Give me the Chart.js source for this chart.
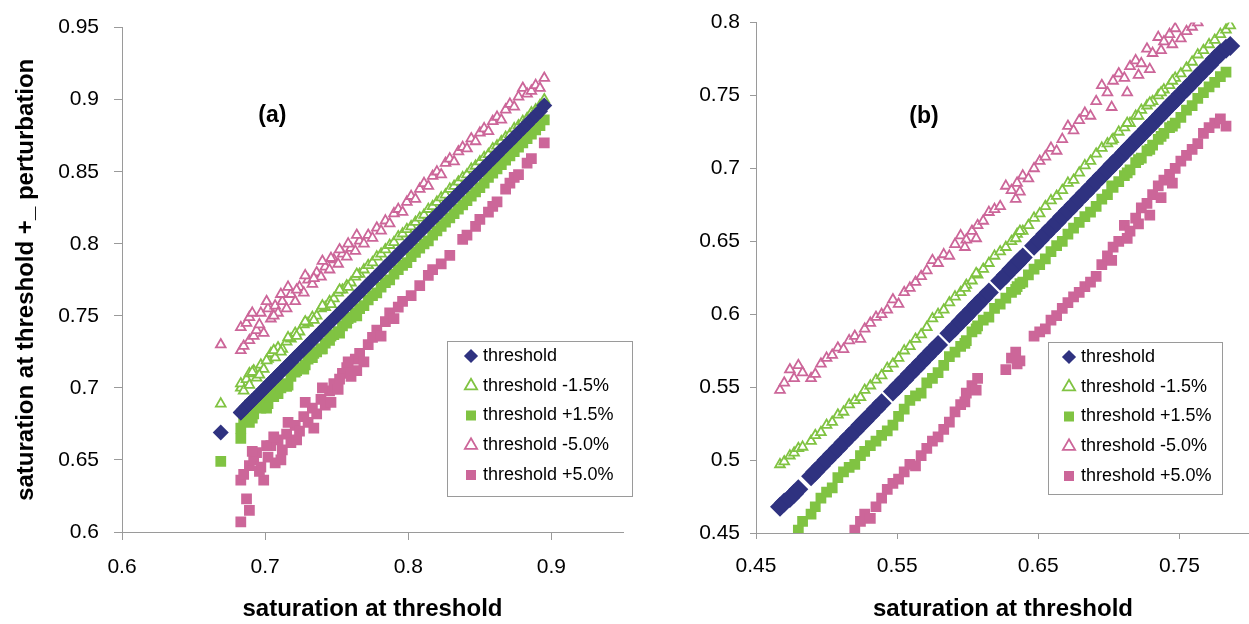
<!DOCTYPE html>
<html>
<head>
<meta charset="utf-8">
<script src="https://cdn.jsdelivr.net/npm/chart.js@4.4.1/dist/chart.umd.min.js"></script>
<style>
  html, body { margin: 0; padding: 0; background: #fff; overflow: hidden; }
  .panel { position: absolute; top: 0; height: 624px; }
</style>
</head>
<body>
<div class="panel" style="left:0;width:640px"><canvas id="chartA" width="640" height="624"></canvas></div>
<div class="panel" style="left:640px;width:620px"><canvas id="chartB" width="620" height="624"></canvas></div>
<script>
const seriesNames = ['threshold', 'threshold -1.5%', 'threshold +1.5%', 'threshold -5.0%', 'threshold +5.0%']

// panel (a)
const satA = [0.669, 0.683, 0.683, 0.685, 0.687, 0.689, 0.689, 0.692, 0.694, 0.697, 0.699, 0.702, 0.704, 0.707, 0.709, 0.712,
  0.715, 0.718, 0.721, 0.724, 0.727, 0.730, 0.733, 0.736, 0.739, 0.742, 0.745, 0.748, 0.751, 0.754, 0.757, 0.760, 0.763, 0.766, 0.769, 0.772,
  0.775, 0.778, 0.781, 0.784, 0.787, 0.790, 0.793, 0.796, 0.799, 0.802, 0.805, 0.808, 0.811, 0.814, 0.817, 0.820, 0.823, 0.826, 0.829, 0.832,
  0.835, 0.838, 0.841, 0.844, 0.847, 0.850, 0.853, 0.856, 0.859, 0.862, 0.865, 0.868, 0.871, 0.874, 0.877, 0.880, 0.883, 0.886, 0.889, 0.892, 0.895,
  0.691, 0.696, 0.701, 0.706, 0.711, 0.716, 0.722, 0.728, 0.734, 0.740, 0.746, 0.752, 0.758, 0.764]
const thresholdA = [0.669, 0.683, 0.683, 0.685, 0.687, 0.689, 0.689, 0.692, 0.694, 0.697, 0.699, 0.702, 0.704, 0.707, 0.709, 0.712,
  0.715, 0.718, 0.721, 0.724, 0.727, 0.730, 0.733, 0.736, 0.739, 0.742, 0.745, 0.748, 0.751, 0.754, 0.757, 0.760, 0.763, 0.766, 0.769, 0.772,
  0.775, 0.778, 0.781, 0.784, 0.787, 0.790, 0.793, 0.796, 0.799, 0.802, 0.805, 0.808, 0.811, 0.814, 0.817, 0.820, 0.823, 0.826, 0.829, 0.832,
  0.835, 0.838, 0.841, 0.844, 0.847, 0.850, 0.853, 0.856, 0.859, 0.862, 0.865, 0.868, 0.871, 0.874, 0.877, 0.880, 0.883, 0.886, 0.889, 0.892, 0.896,
  0.691, 0.696, 0.701, 0.706, 0.711, 0.716, 0.722, 0.728, 0.734, 0.740, 0.746, 0.752, 0.758, 0.764]
const minus15A = [0.689, 0.700, 0.703, 0.698, 0.706, 0.710, 0.702, 0.712, 0.707, 0.716, 0.713, 0.720, 0.724, 0.721, 0.728, 0.727,
  0.732, 0.734, 0.738, 0.739, 0.744, 0.745, 0.749, 0.750, 0.755, 0.756, 0.760, 0.762, 0.766, 0.768, 0.771, 0.773, 0.777, 0.779, 0.782, 0.785,
  0.787, 0.791, 0.793, 0.796, 0.799, 0.801, 0.805, 0.807, 0.810, 0.812, 0.815, 0.818, 0.820, 0.824, 0.826, 0.829, 0.832, 0.834, 0.838, 0.840,
  0.843, 0.846, 0.848, 0.852, 0.854, 0.857, 0.860, 0.862, 0.866, 0.868, 0.871, 0.874, 0.876, 0.880, 0.882, 0.885, 0.887, 0.891, 0.893, 0.896, 0.900,
  0.711, 0.709, 0.719, 0.726, 0.725, 0.735, 0.736, 0.746, 0.747, 0.757, 0.758, 0.768, 0.770, 0.779]
const plus15A = [0.649, 0.665, 0.672, 0.678, 0.684, 0.676, 0.688, 0.682, 0.690, 0.686, 0.692, 0.689, 0.695, 0.699, 0.696, 0.703,
  0.701, 0.708, 0.711, 0.714, 0.713, 0.720, 0.721, 0.725, 0.727, 0.731, 0.733, 0.737, 0.739, 0.743, 0.745, 0.749, 0.752, 0.755, 0.757, 0.761,
  0.764, 0.766, 0.770, 0.773, 0.775, 0.779, 0.782, 0.785, 0.787, 0.791, 0.794, 0.797, 0.800, 0.802, 0.806, 0.809, 0.812, 0.815, 0.818, 0.821,
  0.824, 0.827, 0.830, 0.833, 0.836, 0.839, 0.842, 0.846, 0.849, 0.852, 0.855, 0.858, 0.861, 0.864, 0.867, 0.870, 0.873, 0.876, 0.879, 0.882, 0.886,
  0.679, 0.688, 0.686, 0.694, 0.700, 0.702, 0.712, 0.716, 0.724, 0.727, 0.736, 0.738, 0.748, 0.750]
const minus50A = [0.730, 0.742, 0.726, 0.729, 0.745, 0.733, 0.749, 0.736, 0.740, 0.752, 0.738, 0.755, 0.748, 0.757, 0.752, 0.760,
  0.755, 0.765, 0.760, 0.770, 0.766, 0.775, 0.772, 0.780, 0.777, 0.784, 0.782, 0.789, 0.786, 0.793, 0.791, 0.797, 0.795, 0.802, 0.800, 0.806,
  0.804, 0.811, 0.809, 0.816, 0.814, 0.821, 0.824, 0.822, 0.829, 0.833, 0.831, 0.838, 0.842, 0.840, 0.847, 0.850, 0.848, 0.856, 0.859, 0.857,
  0.864, 0.867, 0.866, 0.873, 0.871, 0.877, 0.880, 0.878, 0.885, 0.888, 0.886, 0.893, 0.897, 0.895, 0.902, 0.908, 0.904, 0.906, 0.910, 0.908, 0.915,
  0.752, 0.744, 0.760, 0.750, 0.765, 0.770, 0.768, 0.778, 0.776, 0.788, 0.790, 0.796, 0.800, 0.806]
const plus50A = [null, 0.607, 0.636, 0.640, 0.623, 0.615, 0.646, 0.650, 0.655, 0.645, 0.636, 0.652, 0.660, 0.648, 0.664, 0.657,
  0.668, 0.662, 0.674, 0.670, 0.680, 0.676, 0.686, 0.682, 0.692, 0.688, 0.698, 0.703, 0.699, 0.710, 0.714, 0.708, 0.720, 0.724, 0.718, 0.730,
  0.735, 0.740, 0.736, 0.746, 0.752, 0.748, 0.756, 0.760, null, 0.764, null, 0.771, null, 0.778, 0.782, null, 0.786, null, 0.792, null,
  null, 0.803, 0.806, null, 0.812, 0.817, null, 0.822, 0.826, 0.829, null, 0.838, 0.842, 0.846, 0.848, null, 0.856, 0.859, null, null, 0.870,
  0.656, 0.642, 0.660, 0.666, 0.650, 0.676, 0.664, 0.690, 0.672, 0.700, 0.690, 0.706, 0.718, 0.712]
const xTicksA = [0.6, 0.7, 0.8, 0.9]
const yTicksA = [0.6, 0.65, 0.7, 0.75, 0.8, 0.85, 0.9, 0.95]

// panel (b)
const satB = [0.467, 0.470, 0.474, 0.477, 0.480, 0.483, 0.489, 0.492, 0.496, 0.500, 0.504, 0.508, 0.512, 0.516, 0.520, 0.524, 0.527,
  0.531, 0.535, 0.539, 0.543, 0.547, 0.551, 0.555, 0.559, 0.563, 0.567, 0.571, 0.575, 0.579, 0.583, 0.587, 0.591, 0.595, 0.599, 0.603, 0.607,
  0.611, 0.615, 0.619, 0.623, 0.627, 0.631, 0.635, 0.639, 0.643, 0.647, 0.651, 0.655, 0.659, 0.663, 0.667, 0.671, 0.675, 0.679, 0.683, 0.687,
  0.691, 0.695, 0.699, 0.703, 0.707, 0.711, 0.715, 0.719, 0.723, 0.727, 0.731, 0.735, 0.739, 0.743, 0.747, 0.751, 0.755, 0.759, 0.763, 0.767,
  0.771, 0.775, 0.779, 0.783, 0.786,
  0.702, 0.713, 0.721, 0.729, 0.737, 0.745, 0.634, 0.637, 0.598, 0.606]
const thresholdB = [0.468, 0.471, 0.474, 0.477, 0.480, null, 0.489, 0.492, 0.496, 0.500, 0.504, 0.508, 0.512, 0.516, 0.520, 0.524, 0.527,
  0.531, 0.535, 0.539, null, 0.547, 0.551, 0.555, 0.559, 0.563, 0.567, 0.571, 0.575, 0.579, null, 0.587, 0.591, 0.595, 0.599, 0.603, 0.607,
  0.611, 0.615, null, 0.623, 0.627, 0.631, 0.635, 0.639, null, 0.647, 0.651, 0.655, 0.659, 0.663, 0.667, 0.671, 0.675, 0.679, 0.683, 0.687,
  0.691, 0.695, 0.699, 0.703, 0.707, 0.711, 0.715, 0.719, 0.723, 0.727, 0.731, 0.735, 0.739, 0.743, 0.747, 0.751, 0.755, 0.759, 0.763, 0.767,
  0.771, 0.775, 0.779, 0.782, 0.784,
  0.702, 0.713, 0.721, 0.729, 0.737, 0.745, 0.634, 0.637, 0.598, 0.606]
const minus15B = [0.497, 0.499, 0.503, 0.505, 0.508, 0.509, 0.513, 0.517, 0.519, 0.524, 0.526, 0.531, 0.533, 0.538, 0.541, 0.543, 0.548,
  0.551, 0.555, 0.558, 0.563, 0.566, 0.570, 0.575, 0.578, 0.583, 0.586, 0.591, 0.597, 0.600, 0.603, 0.608, 0.612, 0.615, 0.620, 0.623, 0.627,
  0.631, 0.635, 0.640, 0.643, 0.646, 0.650, 0.655, 0.657, 0.661, 0.666, 0.669, 0.674, 0.678, 0.681, 0.685, 0.690, 0.692, 0.697, 0.702, 0.705,
  0.710, 0.714, 0.717, 0.720, 0.725, 0.728, 0.731, 0.736, 0.740, 0.743, 0.746, 0.750, 0.754, 0.757, 0.762, 0.765, 0.769, 0.773, 0.778, 0.781,
  0.785, 0.788, 0.792, 0.795, 0.798,
  0.719, 0.731, 0.736, 0.745, 0.752, 0.760, 0.652, 0.657, 0.618, 0.628]
const plus15B = [null, null, null, null, 0.452, 0.458, 0.463, 0.468, 0.474, 0.478, 0.481, 0.488, 0.492, 0.495, 0.497, 0.503, 0.506,
  0.510, 0.513, 0.517, 0.520, 0.524, 0.530, 0.535, 0.541, 0.544, 0.546, 0.553, 0.556, 0.560, 0.565, 0.571, 0.574, 0.578, 0.582, 0.588, 0.592,
  0.596, 0.598, 0.604, 0.607, 0.611, 0.615, 0.619, 0.622, 0.627, 0.631, 0.634, 0.638, 0.643, 0.647, 0.650, 0.655, 0.659, 0.663, 0.667, 0.670,
  0.674, 0.679, 0.682, 0.687, 0.691, 0.695, 0.699, 0.704, 0.707, 0.712, 0.716, 0.720, 0.724, 0.728, 0.731, 0.735, 0.740, 0.743, 0.748, 0.752,
  0.756, 0.759, 0.763, 0.766, null,
  0.688, 0.697, 0.706, 0.713, 0.722, 0.729, 0.617, 0.621, 0.580, 0.590]
const minus50B = [0.548, 0.553, 0.562, 0.556, 0.565, 0.560, 0.556, 0.559, 0.566, 0.570, 0.572, 0.577, 0.576, 0.582, 0.585, 0.583, 0.590,
  0.594, 0.598, 0.600, 0.603, 0.610, 0.607, 0.615, 0.618, 0.622, 0.626, 0.630, 0.637, 0.635, 0.641, 0.640, 0.648, 0.654, 0.651, 0.657, 0.661,
  0.664, 0.670, 0.672, 0.674, 0.688, 0.685, 0.690, 0.695, 0.693, 0.700, 0.705, 0.708, 0.714, 0.712, 0.720, 0.729, 0.726, 0.733, 0.738, 0.736,
  0.746, 0.757, 0.752, 0.760, 0.765, 0.762, 0.770, 0.774, 0.772, 0.782, 0.779, 0.790, 0.787, 0.792, 0.796, 0.789, 0.794, 0.797, 0.800, null,
  null, null, null, null, null,
  0.742, 0.752, 0.764, 0.768, 0.781, 0.785, 0.679, 0.684, 0.646, 0.652]
const plus50B = [null, null, null, null, null, null, null, null, null, null, null, null, null, null, 0.452, 0.458, 0.463,
  0.460, 0.468, 0.474, 0.480, 0.484, 0.487, 0.492, 0.497, 0.496, 0.503, 0.508, 0.513, 0.516, 0.521, 0.526, 0.533, 0.538, 0.546, 0.551, 0.556,
  null, null, null, null, 0.562, 0.570, 0.566, null, null, 0.585, 0.588, 0.590, 0.596, 0.599, 0.604, 0.608, 0.612, 0.615, 0.619, 0.622,
  0.626, 0.634, 0.640, 0.646, 0.650, 0.661, 0.657, 0.666, 0.673, 0.676, 0.682, 0.688, 0.692, 0.696, 0.700, 0.705, 0.709, 0.713, 0.717, 0.724,
  0.728, 0.731, 0.734, 0.729, null,
  0.637, 0.652, 0.662, 0.668, 0.680, 0.690, 0.574, 0.568, 0.540, 0.548]
const xTicksB = [0.45, 0.55, 0.65, 0.75]
const yTicksB = [0.45, 0.5, 0.55, 0.6, 0.65, 0.7, 0.75, 0.8]

const NAVY = '#2f3280'
const GREEN = '#80c342'
const PINK = '#cc6699'
const AXIS = '#9a9a9a'
const FONT = "'Liberation Sans', Arial, sans-serif"

Chart.defaults.font.family = FONT
Chart.defaults.color = '#000'

function markerStyle(i, diamondRadius){
    const styles = [
        {pointStyle: 'rectRot', pointRadius: diamondRadius, backgroundColor: NAVY, borderColor: NAVY, borderWidth: 0},
        {pointStyle: 'triangle', pointRadius: 5.6, backgroundColor: '#fff', borderColor: GREEN, borderWidth: 1.8},
        {pointStyle: 'rect', pointRadius: 7.6, backgroundColor: GREEN, borderColor: GREEN, borderWidth: 0},
        {pointStyle: 'triangle', pointRadius: 5.6, backgroundColor: '#fff', borderColor: PINK, borderWidth: 1.8},
        {pointStyle: 'rect', pointRadius: 7.6, backgroundColor: PINK, borderColor: PINK, borderWidth: 0},
    ]
    return styles[i]
}

function toPoints(xs, ys){
    return xs.map((x, i) => ({x: x, y: ys[i]})).filter((p) => p.y !== null)
}

// moves the built-in legend to a fixed spot and draws the frame round it
const framedLegend = {
    id: 'framedLegend',
    afterLayout(chart, args, opts){
        const lg = chart.legend
        const lab = lg.options.labels
        lg.left = opts.markerX - lab.padding - lab.boxWidth / 2
        lg.top = opts.firstY - opts.fontSize / 2 - lab.padding
        lg.right = opts.box[0] + opts.box[2]
        lg.bottom = lg.top + 400
    },
    afterDraw(chart, args, opts){
        const ctx = chart.ctx
        const [x, y, w, h] = opts.box
        ctx.save()
        ctx.strokeStyle = AXIS
        ctx.lineWidth = 1
        ctx.strokeRect(x + 0.5, y + 0.5, w, h)
        ctx.restore()
    }
}

// "(a)" / "(b)" tag placed in data coordinates
const panelTag = {
    id: 'panelTag',
    afterDraw(chart, args, opts){
        const ctx = chart.ctx
        ctx.save()
        ctx.font = 'bold 23px ' + FONT
        ctx.fillStyle = '#000'
        ctx.textAlign = 'center'
        ctx.textBaseline = 'middle'
        ctx.fillText(opts.text, chart.scales.x.getPixelForValue(opts.x), chart.scales.y.getPixelForValue(opts.y))
        ctx.restore()
    }
}

function makeChart(canvasId, p){
    const ys = [p.threshold, p.minus15, p.plus15, p.minus50, p.plus50]
    const datasets = ys.map((y, i) => Object.assign({
        label: seriesNames[i],
        data: toPoints(p.sat, y),
    }, markerStyle(i, p.diamondRadius)))

    const tickLine = {display: true, drawOnChartArea: false, drawTicks: true, color: AXIS, tickLength: p.tickLength}

    return new Chart(document.getElementById(canvasId), {
        type: 'scatter',
        data: {datasets: datasets},
        plugins: [framedLegend, panelTag],
        options: {
            responsive: false,
            animation: false,
            events: [],
            layout: {padding: {left: 0, top: p.top, right: p.right, bottom: 0}},
            scales: {
                x: {
                    type: 'linear', min: p.xMin, max: p.xMax,
                    afterBuildTicks: (s) => { s.ticks = p.xTicks.map((v) => ({value: v})) },
                    afterFit: (s) => { s.height = p.xAxisHeight },
                    grid: tickLine,
                    border: {display: true, color: AXIS, width: 1},
                    ticks: {font: {size: 21}, color: '#000', padding: 15, maxRotation: 0, autoSkip: false, callback: (v) => String(v)},
                    title: {display: true, text: 'saturation at threshold', font: {size: 24, weight: 'bold'}, color: '#000', padding: {top: 0, bottom: 0}},
                },
                y: {
                    type: 'linear', min: p.yMin, max: p.yMax,
                    afterBuildTicks: (s) => { s.ticks = p.yTicks.map((v) => ({value: v})) },
                    afterFit: (s) => { s.width = p.yAxisWidth },
                    grid: tickLine,
                    border: {display: true, color: AXIS, width: 1},
                    ticks: {font: {size: 21}, color: '#000', padding: p.yLabelPad, autoSkip: false, callback: (v) => String(v)},
                    title: {display: !!p.yTitle, text: p.yTitle || '', font: {size: 24, weight: 'bold'}, color: '#000', padding: {top: 12, bottom: 0}},
                },
            },
            plugins: {
                tooltip: {enabled: false},
                legend: {
                    position: 'chartArea', align: 'start',
                    labels: {usePointStyle: true, boxWidth: 6, boxHeight: 10, padding: 11.75, font: {size: 18}, color: '#000'},
                },
                framedLegend: p.legend,
                panelTag: p.tag,
            },
        },
    })
}

makeChart('chartA', {
    sat: satA, threshold: thresholdA, minus15: minus15A, plus15: plus15A, minus50: minus50A, plus50: plus50A,
    xMin: 0.6, xMax: 0.95, yMin: 0.6, yMax: 0.95, xTicks: xTicksA, yTicks: yTicksA,
    top: 23, right: 17, xAxisHeight: 92, yAxisWidth: 122, tickLength: 8, yLabelPad: 15, diamondRadius: 8,
    yTitle: 'saturation at threshold +_ perturbation',
    legend: {box: [447, 341, 185, 155], markerX: 471, firstY: 356, fontSize: 18},
    tag: {text: '(a)', x: 0.705, y: 0.889},
})

makeChart('chartB', {
    sat: satB, threshold: thresholdB, minus15: minus15B, plus15: plus15B, minus50: minus50B, plus50: plus50B,
    xMin: 0.45, xMax: 0.8, yMin: 0.45, yMax: 0.8, xTicks: xTicksB, yTicks: yTicksB,
    top: 18, right: 8, xAxisHeight: 91, yAxisWidth: 116, tickLength: 6, yLabelPad: 10, diamondRadius: 10,
    yTitle: null,
    legend: {box: [408, 342, 174, 152], markerX: 429, firstY: 357, fontSize: 18},
    tag: {text: '(b)', x: 0.569, y: 0.7355},
})
</script>
</body>
</html>
